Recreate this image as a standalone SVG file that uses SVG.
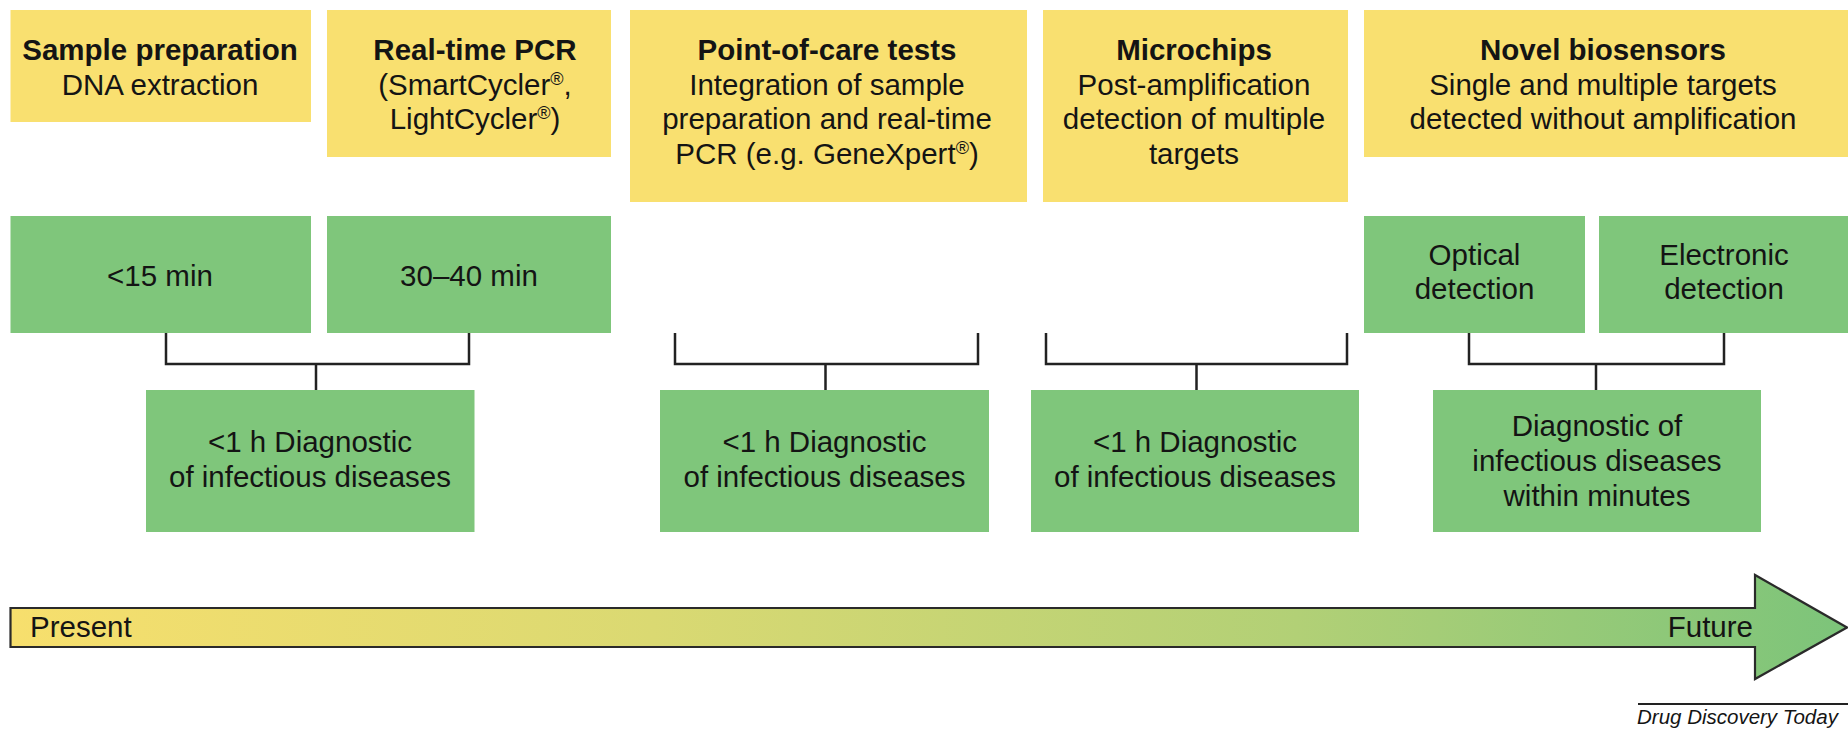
<svg xmlns="http://www.w3.org/2000/svg" width="1848" height="730" viewBox="0 0 1848 730">
<defs>
<linearGradient id="tl" gradientUnits="userSpaceOnUse" x1="10" y1="0" x2="1848" y2="0">
<stop offset="0" stop-color="#F7DF6D"/>
<stop offset="0.35" stop-color="#DAD972"/>
<stop offset="0.7" stop-color="#B2D076"/>
<stop offset="1" stop-color="#7CC47A"/>
</linearGradient>
</defs>
<style>
.y{fill:#F9E070}
.g{fill:#7FC67B}
text{font-family:"Liberation Sans",Arial,sans-serif;font-size:29.5px;fill:#141414;text-anchor:middle}
.b{font-weight:bold}
.sup{font-size:18px}
.con{fill:none;stroke:#222;stroke-width:2.5}
</style>
<g id="sample-prep">
<rect class="y" x="10.5" y="10" width="300.5" height="112"/>
<text x="160" y="60" class="b">Sample preparation</text>
<text x="160" y="94.5">DNA extraction</text>
</g>
<g id="realtime-pcr">
<rect class="y" x="327" y="10" width="284" height="147"/>
<text x="475" y="60" class="b">Real-time PCR</text>
<text x="475" y="94.5">(SmartCycler<tspan class="sup" dy="-10">®</tspan><tspan dy="10">,</tspan></text>
<text x="475" y="129">LightCycler<tspan class="sup" dy="-10">®</tspan><tspan dy="10">)</tspan></text>
</g>
<g id="poc">
<rect class="y" x="630" y="10" width="397" height="192"/>
<text x="827" y="60" class="b">Point-of-care tests</text>
<text x="827" y="94.5">Integration of sample</text>
<text x="827" y="129">preparation and real-time</text>
<text x="827" y="164">PCR (e.g. GeneXpert<tspan class="sup" dy="-10">®</tspan><tspan dy="10">)</tspan></text>
</g>
<g id="microchips">
<rect class="y" x="1043" y="10" width="305" height="192"/>
<text x="1194" y="60" class="b">Microchips</text>
<text x="1194" y="94.5">Post-amplification</text>
<text x="1194" y="129">detection of multiple</text>
<text x="1194" y="164">targets</text>
</g>
<g id="biosensors">
<rect class="y" x="1364" y="10" width="484" height="147"/>
<text x="1603" y="60" class="b">Novel biosensors</text>
<text x="1603" y="94.5">Single and multiple targets</text>
<text x="1603" y="129">detected without amplification</text>
</g>
<g id="t15">
<rect class="g" x="10.5" y="216" width="300.5" height="117"/>
<text x="160" y="286">&lt;15 min</text>
</g>
<g id="t3040">
<rect class="g" x="327" y="216" width="284" height="117"/>
<text x="469" y="286">30–40 min</text>
</g>
<g id="optical">
<rect class="g" x="1364" y="216" width="221" height="117"/>
<text x="1474.5" y="265">Optical</text>
<text x="1474.5" y="299">detection</text>
</g>
<g id="electronic">
<rect class="g" x="1599" y="216" width="249" height="117"/>
<text x="1724" y="265">Electronic</text>
<text x="1724" y="299">detection</text>
</g>
<g id="diag1">
<rect class="g" x="146" y="390" width="328.5" height="142"/>
<text x="310" y="452">&lt;1 h Diagnostic</text>
<text x="310" y="487">of infectious diseases</text>
</g>
<g id="diag2">
<rect class="g" x="660" y="390" width="329" height="142"/>
<text x="824.5" y="452">&lt;1 h Diagnostic</text>
<text x="824.5" y="487">of infectious diseases</text>
</g>
<g id="diag3">
<rect class="g" x="1031" y="390" width="328" height="142"/>
<text x="1195" y="452">&lt;1 h Diagnostic</text>
<text x="1195" y="487">of infectious diseases</text>
</g>
<g id="diag4">
<rect class="g" x="1433" y="390" width="328" height="142"/>
<text x="1597" y="436">Diagnostic of</text>
<text x="1597" y="471">infectious diseases</text>
<text x="1597" y="506">within minutes</text>
</g>
<g id="connectors">
<path class="con" d="M166,333 V364 H469 V333 M316,364 V390"/>
<path class="con" d="M675,333 V364 H978 V333 M825.5,364 V390"/>
<path class="con" d="M1046,333 V364 H1347 V333 M1196.5,364 V390"/>
<path class="con" d="M1469,333 V364 H1724 V333 M1596,364 V390"/>
</g>
<g id="timeline">
<path d="M10.5,608 H1755 V575 L1847,627.5 L1755,679 V647 H10.5 Z" fill="url(#tl)" stroke="#2a2a2a" stroke-width="2.2" stroke-linejoin="miter"/>
<text x="30" y="637" style="text-anchor:start">Present</text>
<text x="1753" y="637" style="text-anchor:end">Future</text>
</g>
<g id="credit">
<path d="M1638,704 H1848" stroke="#222" stroke-width="1.8"/>
<text x="1637" y="724" style="text-anchor:start;font-size:20.5px;font-style:italic">Drug Discovery Today</text>
</g>
</svg>
